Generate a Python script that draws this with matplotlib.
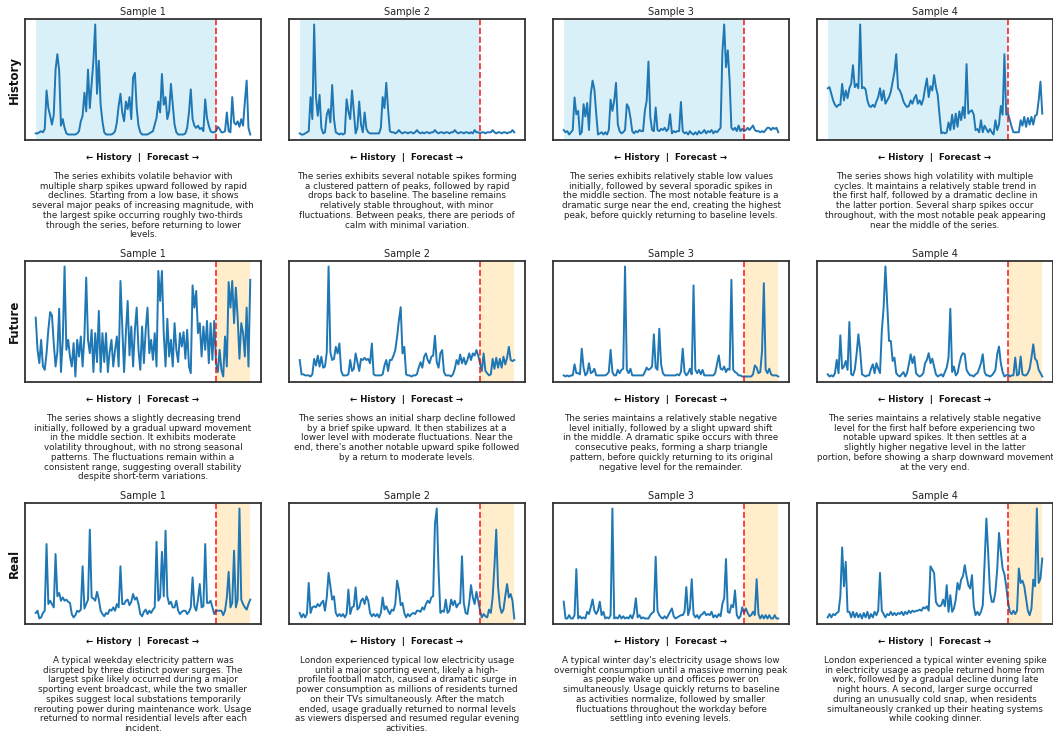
import numpy as np
import matplotlib
matplotlib.use("Agg")
import matplotlib.pyplot as plt

# ---------------- data ----------------
row_names = ["History", "Future", "Real"]
sample_titles = ["Sample 1", "Sample 2", "Sample 3", "Sample 4"]
split_index = 100  # last history point / first forecast point

hist_s1 = [1, 1, 2, 3, 2, 5, 40, 24, 17, 9,
           18, 59, 73, 58, 8, 14, 6, 1, 0, 0,
           0, 0, 0, 1, 3, 12, 17, 38, 21, 59,
           24, 46, 67, 100, 37, 67, 27, 12, 2, 0,
           0, 0, 0, 1, 3, 11, 26, 37, 20, 12,
           30, 23, 34, 14, 52, 56, 24, 8, 2, 0,
           0, 0, 0, 1, 2, 3, 9, 15, 30, 20,
           55, 27, 34, 14, 21, 46, 27, 9, 2, 0,
           0, 0, 0, 1, 6, 20, 41, 14, 8, 6,
           8, 5, 6, 3, 32, 15, 8, 3, 2, 2,
           3, 7, 5, 2, 2, 3, 20, 3, 2, 34,
           11, 9, 12, 7, 14, 8, 30, 49, 6, 0]
hist_s2 = [1, 0, 0, 1, 2, 3, 34, 14, 100, 34,
           17, 36, 6, 1, 2, 18, 23, 11, 45, 14,
           2, 1, 0, 1, 0, 1, 32, 21, 14, 40,
           21, 1, 6, 30, 9, 2, 20, 5, 2, 1,
           1, 1, 1, 1, 1, 6, 34, 24, 47, 23,
           3, 2, 2, 1, 2, 4, 2, 1, 2, 2,
           1, 2, 2, 1, 2, 4, 2, 1, 2, 1,
           2, 2, 1, 2, 2, 4, 2, 1, 2, 2,
           1, 2, 2, 1, 2, 2, 4, 2, 1, 2,
           2, 1, 2, 2, 1, 2, 1, 4, 2, 2,
           1, 2, 2, 1, 2, 2, 2, 4, 2, 1,
           2, 2, 1, 2, 2, 1, 2, 2, 4, 2]
hist_s3 = [6, 4, 5, 2, 4, 6, 35, 20, 23, 2,
           4, 29, 18, 30, 6, 38, 50, 42, 21, 2,
           3, 4, 2, 4, 2, 6, 33, 23, 32, 48,
           11, 5, 3, 4, 6, 29, 26, 17, 5, 3,
           5, 4, 6, 5, 5, 23, 32, 67, 18, 6,
           5, 26, 6, 5, 7, 6, 8, 5, 7, 20,
           3, 5, 4, 5, 5, 31, 5, 3, 4, 2,
           5, 3, 2, 4, 2, 5, 3, 4, 6, 3,
           5, 4, 6, 3, 5, 4, 6, 8, 75, 100,
           62, 77, 50, 8, 6, 8, 5, 10, 5, 7,
           5, 6, 8, 6, 8, 10, 6, 5, 5, 4,
           5, 4, 6, 8, 8, 6, 8, 7, 8, 4]
hist_s4 = [42, 43, 37, 31, 27, 25, 27, 27, 46, 31,
           40, 33, 42, 46, 63, 43, 46, 42, 100, 42,
           43, 41, 31, 26, 25, 27, 25, 30, 34, 42,
           31, 40, 28, 31, 34, 39, 48, 57, 73, 42,
           40, 36, 30, 27, 25, 26, 31, 28, 33, 36,
           28, 31, 27, 32, 42, 51, 34, 44, 40, 54,
           43, 36, 18, 1, 2, 1, 2, 11, 4, 18,
           5, 19, 7, 21, 13, 25, 15, 64, 19, 21,
           22, 18, 4, 5, 2, 13, 2, 8, 5, 2,
           5, 2, 0, 13, 4, 9, 26, 18, 73, 18,
           19, 13, 7, 2, 2, 2, 2, 13, 8, 16,
           7, 15, 9, 16, 9, 17, 18, 31, 48, 19]

fut_s1 = [54, 25, 13, 34, 10, 7, 22, 43, 59, 56,
          31, 10, 23, 62, 5, 34, 100, 25, 34, 19,
          10, 31, 1, 34, 19, 37, 10, 37, 90, 34,
          22, 43, 5, 40, 14, 60, 5, 40, 14, 40,
          5, 23, 34, 10, 25, 37, 10, 87, 46, 5,
          40, 69, 20, 46, 10, 43, 63, 25, 7, 46,
          13, 43, 63, 22, 34, 16, 40, 10, 96, 69,
          96, 40, 10, 53, 19, 34, 10, 49, 25, 14,
          40, 28, 41, 17, 43, 10, 4, 83, 63, 78,
          40, 49, 19, 46, 25, 51, 13, 49, 16, 51,
          13, 5, 25, 7, 1, 37, 10, 86, 63, 87,
          49, 81, 54, 17, 49, 40, 19, 63, 10, 88]
fut_s2 = [15, 2, 2, 1, 1, 1, 0, 2, 16, 10,
          19, 9, 18, 8, 9, 22, 100, 22, 15, 16,
          27, 21, 30, 5, 1, 1, 1, 2, 15, 5,
          7, 21, 13, 5, 16, 15, 17, 15, 16, 12,
          30, 2, 1, 1, 1, 1, 2, 10, 15, 5,
          15, 15, 19, 24, 36, 51, 63, 21, 27, 2,
          1, 1, 0, 1, 1, 2, 8, 13, 8, 18,
          21, 15, 12, 18, 19, 37, 13, 8, 21, 24,
          4, 1, 1, 1, 0, 2, 7, 15, 11, 20,
          12, 17, 11, 15, 21, 15, 21, 19, 24, 19,
          12, 5, 21, 5, 3, 1, 2, 16, 7, 17,
          8, 16, 8, 18, 11, 17, 27, 15, 14, 15]
fut_s3 = [2, 1, 2, 1, 2, 2, 12, 4, 4, 3,
          26, 9, 2, 4, 13, 4, 5, 8, 2, 2,
          2, 2, 2, 2, 3, 5, 25, 5, 2, 2,
          7, 4, 7, 8, 100, 7, 4, 8, 2, 2,
          2, 2, 2, 2, 2, 5, 9, 7, 8, 10,
          39, 9, 7, 44, 12, 4, 2, 2, 2, 2,
          2, 2, 2, 3, 2, 5, 26, 5, 2, 4,
          8, 3, 83, 7, 4, 7, 3, 7, 2, 2,
          2, 2, 2, 2, 4, 12, 20, 8, 7, 10,
          5, 8, 7, 88, 7, 5, 4, 2, 2, 1,
          1, 1, 1, 1, 1, 3, 11, 9, 4, 5,
          24, 85, 7, 4, 8, 3, 2, 2, 2, 1]
fut_s4 = [3, 1, 2, 1, 4, 16, 4, 38, 8, 10,
          15, 7, 50, 3, 2, 7, 21, 39, 24, 3,
          2, 1, 2, 2, 8, 12, 4, 13, 8, 4,
          42, 63, 100, 66, 33, 33, 15, 18, 4, 2,
          1, 3, 5, 1, 4, 12, 21, 13, 19, 4,
          2, 1, 2, 4, 13, 16, 22, 13, 17, 10,
          3, 1, 2, 3, 1, 5, 9, 18, 62, 5,
          10, 2, 4, 12, 19, 22, 21, 7, 4, 2,
          2, 1, 3, 4, 8, 13, 21, 5, 2, 2,
          1, 2, 4, 7, 21, 28, 13, 5, 1, 2,
          3, 1, 2, 2, 18, 2, 3, 19, 3, 2,
          2, 4, 8, 18, 30, 17, 15, 7, 4, 1]

real_s1 = [6, 8, 1, 2, 6, 8, 68, 14, 17, 14,
           11, 59, 21, 24, 17, 20, 17, 18, 16, 15,
           5, 2, 4, 8, 7, 9, 48, 10, 14, 18,
           81, 20, 19, 17, 25, 18, 8, 5, 3, 6,
           5, 9, 8, 11, 8, 14, 11, 48, 14, 14,
           17, 18, 13, 16, 23, 18, 20, 14, 5, 3,
           7, 9, 5, 8, 6, 9, 11, 70, 17, 20,
           61, 21, 80, 21, 14, 16, 11, 11, 17, 8,
           5, 7, 8, 8, 5, 7, 11, 38, 12, 8,
           18, 32, 11, 12, 68, 15, 15, 17, 11, 5,
           8, 8, 8, 8, 4, 8, 20, 43, 11, 15,
           62, 11, 18, 100, 18, 14, 11, 9, 14, 18]
real_s2 = [6, 2, 5, 2, 5, 33, 6, 11, 12, 11,
           14, 12, 15, 17, 8, 20, 42, 30, 18, 21,
           6, 3, 5, 3, 5, 2, 5, 27, 5, 11,
           12, 29, 9, 11, 17, 19, 14, 21, 17, 6,
           3, 5, 3, 5, 2, 6, 20, 9, 12, 8,
           5, 9, 8, 14, 35, 27, 13, 15, 6, 2,
           5, 3, 5, 6, 5, 8, 8, 7, 11, 9,
           14, 17, 15, 20, 21, 86, 100, 45, 6, 8,
           7, 18, 6, 8, 18, 13, 17, 11, 14, 15,
           57, 15, 6, 5, 15, 31, 20, 14, 25, 17,
           8, 2, 5, 3, 2, 9, 6, 20, 48, 81,
           30, 12, 6, 9, 21, 32, 20, 23, 17, 1]
real_s3 = [17, 2, 2, 5, 2, 2, 5, 46, 2, 4,
           2, 3, 2, 8, 6, 12, 19, 9, 6, 9,
           17, 5, 8, 2, 3, 2, 5, 100, 2, 3,
           2, 5, 2, 4, 2, 3, 2, 5, 2, 7,
           20, 3, 5, 2, 3, 2, 2, 2, 5, 7,
           8, 57, 9, 5, 3, 2, 4, 2, 5, 8,
           11, 4, 2, 3, 4, 5, 5, 8, 30, 5,
           11, 37, 6, 3, 5, 2, 5, 6, 8, 5,
           6, 5, 8, 3, 5, 3, 6, 4, 15, 20,
           55, 8, 7, 14, 12, 27, 5, 2, 4, 12,
           7, 11, 7, 4, 5, 8, 5, 37, 6, 2,
           5, 2, 5, 2, 5, 2, 2, 5, 2, 2]
real_s4 = [2, 5, 2, 5, 4, 6, 7, 21, 65, 30,
           52, 7, 7, 2, 7, 2, 6, 2, 5, 1,
           6, 2, 7, 1, 5, 2, 7, 4, 8, 42,
           8, 5, 2, 5, 4, 7, 4, 6, 4, 6,
           5, 7, 4, 7, 5, 8, 6, 8, 7, 8,
           8, 9, 8, 11, 10, 12, 8, 48, 45, 42,
           16, 13, 12, 13, 18, 12, 31, 7, 22, 7,
           10, 18, 33, 27, 36, 39, 49, 39, 31, 28,
           40, 12, 4, 7, 4, 7, 13, 51, 91, 60,
           25, 16, 16, 25, 45, 78, 61, 46, 41, 30,
           16, 7, 5, 8, 5, 8, 46, 33, 35, 30,
           19, 8, 4, 10, 36, 30, 100, 33, 37, 55]

series = [[hist_s1, hist_s2, hist_s3, hist_s4],
          [fut_s1, fut_s2, fut_s3, fut_s4],
          [real_s1, real_s2, real_s3, real_s4]]

descriptions = [
    [
        "The series exhibits volatile behavior with\nmultiple sharp spikes upward followed by rapid\ndeclines. Starting from a low base, it shows\nseveral major peaks of increasing magnitude, with\nthe largest spike occurring roughly two-thirds\nthrough the series, before returning to lower\nlevels.",
        "The series exhibits several notable spikes forming\na clustered pattern of peaks, followed by rapid\ndrops back to baseline. The baseline remains\nrelatively stable throughout, with minor\nfluctuations. Between peaks, there are periods of\ncalm with minimal variation.",
        "The series exhibits relatively stable low values\ninitially, followed by several sporadic spikes in\nthe middle section. The most notable feature is a\ndramatic surge near the end, creating the highest\npeak, before quickly returning to baseline levels.",
        "The series shows high volatility with multiple\ncycles. It maintains a relatively stable trend in\nthe first half, followed by a dramatic decline in\nthe latter portion. Several sharp spikes occur\nthroughout, with the most notable peak appearing\nnear the middle of the series.",
    ],
    [
        "The series shows a slightly decreasing trend\ninitially, followed by a gradual upward movement\nin the middle section. It exhibits moderate\nvolatility throughout, with no strong seasonal\npatterns. The fluctuations remain within a\nconsistent range, suggesting overall stability\ndespite short-term variations.",
        "The series shows an initial sharp decline followed\nby a brief spike upward. It then stabilizes at a\nlower level with moderate fluctuations. Near the\nend, there's another notable upward spike followed\nby a return to moderate levels.",
        "The series maintains a relatively stable negative\nlevel initially, followed by a slight upward shift\nin the middle. A dramatic spike occurs with three\nconsecutive peaks, forming a sharp triangle\npattern, before quickly returning to its original\nnegative level for the remainder.",
        "The series maintains a relatively stable negative\nlevel for the first half before experiencing two\nnotable upward spikes. It then settles at a\nslightly higher negative level in the latter\nportion, before showing a sharp downward movement\nat the very end.",
    ],
    [
        "A typical weekday electricity pattern was\ndisrupted by three distinct power surges. The\nlargest spike likely occurred during a major\nsporting event broadcast, while the two smaller\nspikes suggest local substations temporarily\nrerouting power during maintenance work. Usage\nreturned to normal residential levels after each\nincident.",
        "London experienced typical low electricity usage\nuntil a major sporting event, likely a high-\nprofile football match, caused a dramatic surge in\npower consumption as millions of residents turned\non their TVs simultaneously. After the match\nended, usage gradually returned to normal levels\nas viewers dispersed and resumed regular evening\nactivities.",
        "A typical winter day's electricity usage shows low\novernight consumption until a massive morning peak\nas people wake up and offices power on\nsimultaneously. Usage quickly returns to baseline\nas activities normalize, followed by smaller\nfluctuations throughout the workday before\nsettling into evening levels.",
        "London experienced a typical winter evening spike\nin electricity usage as people returned home from\nwork, followed by a gradual decline during late\nnight hours. A second, larger surge occurred\nduring an unusually cold snap, when residents\nsimultaneously cranked up their heating systems\nwhile cooking dinner.",
    ],
]

divider_label = "\u2190 History  |  Forecast \u2192"

# ---------------- layout ----------------
W, H = 1053, 736
fig = plt.figure(figsize=(W / 100, H / 100), dpi=100)
plt.rcParams['font.family'] = ['DejaVu Sans']

col_left = [25, 289, 553, 817]
ax_w = 236
row_top = [19, 261, 503]
ax_h = 121

for r in range(3):
    for c in range(4):
        l = col_left[c] / W
        b = 1 - (row_top[r] + ax_h) / H
        ax = fig.add_axes([l, b, ax_w / W, ax_h / H])
        y = np.array(series[r][c], dtype=float)
        x = np.arange(len(y))
        if r == 0:
            ax.axvspan(0, split_index, color='skyblue', alpha=0.3, lw=0)
        else:
            ax.axvspan(split_index, len(y) - 1, color='orange', alpha=0.2, lw=0)
        ax.plot(x, y, color='#1f77b4', lw=1.4)
        ax.axvline(split_index, color='red', ls='--', lw=1.2, alpha=0.85)
        ax.set_xticks([])
        ax.set_yticks([])
        for s in ax.spines.values():
            s.set_linewidth(1.3)
            s.set_color('#333333')
        ax.set_title(sample_titles[c], fontsize=7, pad=3, color='#222222')

        cx = (col_left[c] + ax_w / 2) / W
        fig.text(cx, 1 - (row_top[r] + ax_h + 17) / H, divider_label,
                 ha='center', va='center', fontsize=6.2, fontweight='bold',
                 color='#111111')
        fig.text(cx, 1 - (row_top[r] + ax_h + 32) / H, descriptions[r][c],
                 ha='center', va='top', fontsize=6.3, color='#222222',
                 linespacing=1.1)

    fig.text(14 / W, 1 - (row_top[r] + ax_h / 2) / H, row_names[r],
             rotation=90, ha='center', va='center', fontsize=8.5,
             fontweight='bold', color='#111111')

fig.savefig("out.png", dpi=100)
